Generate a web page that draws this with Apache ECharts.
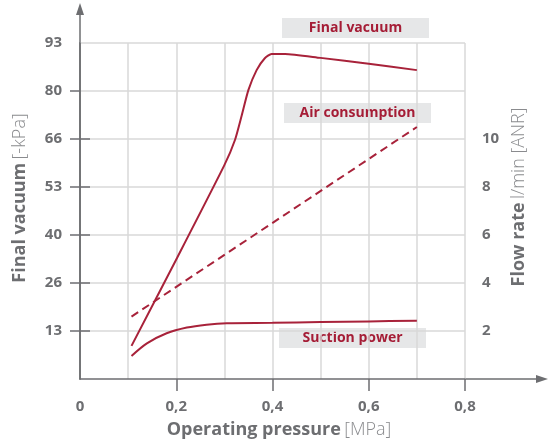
<!DOCTYPE html>
<html>
<head>
<meta charset="utf-8">
<script src="https://cdn.jsdelivr.net/npm/echarts@6/dist/echarts.min.js"></script>
<style>
  html, body { margin: 0; padding: 0; background: #fff; }
  #chart { width: 549px; height: 448px; }
</style>
</head>
<body>
<div id="chart"></div>
<script>
// Operating pressure [MPa] against final vacuum and suction power (left axis)
// and air consumption (right axis, flow rate).
const finalVacuum = [
  [0.107, 9.2], [0.2, 33.2], [0.3, 59.4], [0.322, 66.4], [0.336, 73.2],
  [0.35, 80.3], [0.367, 85.8], [0.384, 89.1], [0.398, 90.3], [0.426, 90.3],
  [0.5, 89.2], [0.6, 87.6], [0.7, 85.8]
];
const suctionPower = [
  [0.107, 6.4], [0.139, 9.9], [0.18, 12.7], [0.222, 14.3], [0.263, 15.1],
  [0.305, 15.5], [0.4, 15.6], [0.5, 15.8], [0.6, 16.0], [0.7, 16.2]
];
const airConsumption = [[0.107, 2.6], [0.7, 10.5]];

const pressureTicks = [0.2, 0.4, 0.6, 0.8];
const vacuumTickLabels = ['13', '26', '40', '53', '66', '80', '93'];
const flowTicks = [2, 4, 6, 8, 10];

const GRID = { left: 80, right: 84, top: 43, bottom: 69 };
const W = 549, H = 448;
const AXIS = '#6d6e71';
const GRIDLINE = '#d9d9d9';
const RED = '#a8223a';
const LABEL_RED = '#a51d36';
const FONT = '"Open Sans", "Noto Sans", sans-serif';

const vacStep = 40 / 3;
const vacTicks = vacuumTickLabels.map((_, i) => (i + 1) * vacStep);

const x0 = GRID.left, x1 = W - GRID.right, y0 = H - GRID.bottom, y1 = GRID.top;

function tag(text, x, y, w, h) {
  return {
    type: 'group', left: x, top: y, silent: true,
    children: [
      { type: 'rect', shape: { x: 0, y: 0, width: w, height: h }, style: { fill: '#e6e7e8' } },
      { type: 'text', x: w / 2, y: h / 2,
        style: { text: text, fill: LABEL_RED, font: 'bold 14px ' + FONT, align: 'center', verticalAlign: 'middle' } }
    ]
  };
}

const titleRich = {
  b: { fontFamily: FONT, fontWeight: 'bold', fontSize: 18, fill: AXIS },
  n: { fontFamily: FONT, fontWeight: 300, fontSize: 18, fill: '#8a8b8e' }
};

function axisTitle(bold, plain, cx, cy, rotation) {
  return {
    type: 'text', silent: true, x: cx, y: cy, rotation: rotation,
    style: { text: '{b|' + bold + '} {n|' + plain + '}', rich: titleRich,
      align: 'center', verticalAlign: 'middle' }
  };
}

const chart = echarts.init(document.getElementById('chart'), null, { renderer: 'canvas' });
chart.setOption({
  animation: false,
  backgroundColor: '#fff',
  grid: { left: GRID.left, right: GRID.right, top: GRID.top, bottom: GRID.bottom },
  xAxis: [
    {
      type: 'value', min: 0, max: 0.8, interval: 0.2,
      axisLine: { show: true, lineStyle: { color: AXIS, width: 1.5 } },
      axisTick: { show: true, length: 12, customValues: pressureTicks, lineStyle: { color: AXIS, width: 1.5 } },
      axisLabel: { margin: 20, color: AXIS, fontFamily: FONT, fontWeight: 'bold', fontSize: 15,
        formatter: v => String(Math.round(v * 10) / 10).replace('.', ',') },
      splitLine: { show: false }
    },
    {
      type: 'value', min: 0, max: 0.8, interval: 0.1, show: true,
      axisLine: { show: false }, axisTick: { show: false }, axisLabel: { show: false },
      splitLine: { show: true, lineStyle: { color: GRIDLINE, width: 1.5 } }
    }
  ],
  yAxis: [
    {
      type: 'value', min: 0, max: 7 * vacStep, interval: vacStep,
      axisLine: { show: true, lineStyle: { color: AXIS, width: 1.5 } },
      axisTick: { show: true, length: 10, customValues: vacTicks, lineStyle: { color: AXIS, width: 1.5 } },
      axisLabel: { margin: 18, color: AXIS, fontFamily: FONT, fontWeight: 'bold', fontSize: 15,
        formatter: v => { const i = Math.round(v / vacStep); return i > 0 ? vacuumTickLabels[i - 1] : ''; } },
      splitLine: { show: true, lineStyle: {
        color: [GRIDLINE, GRIDLINE, GRIDLINE, GRIDLINE, GRIDLINE, GRIDLINE, GRIDLINE, AXIS], width: 1.5 } }
    },
    {
      type: 'value', min: 0, max: 14, interval: 2, position: 'right',
      axisLine: { show: true, lineStyle: { color: AXIS, width: 1.5 } },
      axisTick: { show: true, length: 10, customValues: flowTicks, lineStyle: { color: AXIS, width: 1.5 } },
      axisLabel: { margin: 17, color: AXIS, fontFamily: FONT, fontWeight: 'bold', fontSize: 15,
        customValues: flowTicks },
      splitLine: { show: false }
    }
  ],
  series: [
    {
      name: 'Final vacuum', type: 'line', xAxisIndex: 0, yAxisIndex: 0,
      data: finalVacuum, smooth: 0.2, showSymbol: false,
      lineStyle: { color: RED, width: 2 }, z: 5
    },
    {
      name: 'Suction power', type: 'line', xAxisIndex: 0, yAxisIndex: 0,
      data: suctionPower, smooth: 0.3, showSymbol: false,
      lineStyle: { color: RED, width: 2 }, z: 5
    },
    {
      name: 'Air consumption', type: 'line', xAxisIndex: 0, yAxisIndex: 1,
      data: airConsumption, showSymbol: false,
      lineStyle: { color: RED, width: 2, type: [8, 5] }, z: 5
    }
  ],
  graphic: [
    // axis arrows
    { type: 'line', silent: true, shape: { x1: x0, y1: y1, x2: x0, y2: 12 }, style: { stroke: AXIS, lineWidth: 1.5 } },
    { type: 'polygon', silent: true, shape: { points: [[x0, 3], [x0 - 4, 15], [x0 + 4, 15]] }, style: { fill: AXIS } },
    { type: 'line', silent: true, shape: { x1: x1, y1: y0, x2: W - 12, y2: y0 }, style: { stroke: AXIS, lineWidth: 1.5 } },
    { type: 'polygon', silent: true, shape: { points: [[W - 1, y0], [W - 13, y0 - 4], [W - 13, y0 + 4]] }, style: { fill: AXIS } },
    // axis titles
    axisTitle('Operating pressure', '[MPa]', 279, 430, 0),
    axisTitle('Final vacuum', '[-kPa]', 20, 198, Math.PI / 2),
    axisTitle('Flow rate', 'l/min [ANR]', 519, 197, Math.PI / 2),
    // curve captions
    tag('Final vacuum', 282, 18, 147, 20),
    tag('Air consumption', 284, 103, 147, 20),
    tag('Suction power', 279, 328, 147, 20)
  ]
});
</script>
</body>
</html>
